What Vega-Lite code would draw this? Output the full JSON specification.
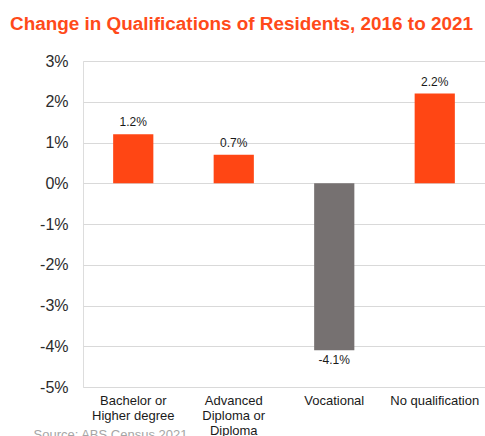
{
  "$schema": "https://vega.github.io/schema/vega-lite/v6.json",
  "width": 402,
  "height": 326,
  "autosize": "none",
  "padding": {"left": 83, "top": 61, "right": 0, "bottom": 49},
  "background": "white",
  "title": {
    "text": "Change in Qualifications of Residents, 2016 to 2021",
    "font": "Liberation Sans",
    "fontSize": 18.9,
    "fontWeight": "bold",
    "color": "#FF4A1A",
    "anchor": "start",
    "frame": "group",
    "dx": -73,
    "offset": 19
  },
  "data": {
    "values": [
      {"category": "Bachelor or Higher degree", "value": 1.2, "type": "pos"},
      {"category": "Advanced Diploma or Diploma", "value": 0.7, "type": "pos"},
      {"category": "Vocational", "value": -4.1, "type": "neg"},
      {"category": "No qualification", "value": 2.2, "type": "pos"}
    ]
  },
  "encoding": {
    "x": {
      "field": "category",
      "type": "nominal",
      "sort": null,
      "scale": {"paddingInner": 0.6, "paddingOuter": 0.3},
      "axis": {
        "title": "Source: ABS Census 2021",
        "titleFont": "Liberation Sans",
        "titleFontSize": 13,
        "titleFontWeight": "normal",
        "titleColor": "#A6A6A6",
        "titleAnchor": "start",
        "titleAlign": "left",
        "titleBaseline": "alphabetic",
        "titleX": -50,
        "titleY": 51,
        "labelAngle": 0,
        "labelFont": "Liberation Sans",
        "labelFontSize": 13,
        "labelColor": "#1a1a1a",
        "labelPadding": 7,
        "labelLineHeight": 15,
        "labelBaseline": "top",
        "labelExpr": "datum.value == 'Bachelor or Higher degree' ? ['Bachelor or', 'Higher degree'] : datum.value == 'Advanced Diploma or Diploma' ? ['Advanced', 'Diploma or', 'Diploma'] : datum.value",
        "domain": false,
        "ticks": false,
        "grid": false
      }
    }
  },
  "layer": [
    {
      "mark": {"type": "bar"},
      "encoding": {
        "y": {
          "field": "value",
          "type": "quantitative",
          "scale": {"domain": [-5, 3], "nice": false},
          "axis": {
            "title": null,
            "values": [-5, -4, -3, -2, -1, 0, 1, 2, 3],
            "labelExpr": "datum.value + '%'",
            "labelFont": "Liberation Sans",
            "labelFontSize": 16,
            "labelColor": "#2b2b2b",
            "labelPadding": 15,
            "domain": false,
            "ticks": false,
            "grid": true,
            "gridColor": "#D9D9D9",
            "gridWidth": 1.2
          }
        },
        "color": {
          "field": "type",
          "type": "nominal",
          "scale": {"domain": ["pos", "neg"], "range": ["#FF4614", "#767171"]},
          "legend": null
        }
      }
    },
    {
      "transform": [{"filter": "datum.value >= 0"}],
      "mark": {"type": "text", "baseline": "bottom", "dy": -5, "font": "Liberation Sans", "fontSize": 12, "color": "#1a1a1a", "text": {"expr": "datum.value + '%'"}},
      "encoding": {
        "y": {"field": "value", "type": "quantitative"}
      }
    },
    {
      "transform": [{"filter": "datum.value < 0"}],
      "mark": {"type": "text", "baseline": "top", "dy": 5, "font": "Liberation Sans", "fontSize": 12, "color": "#1a1a1a", "text": {"expr": "datum.value + '%'"}},
      "encoding": {
        "y": {"field": "value", "type": "quantitative"}
      }
    }
  ]
}
